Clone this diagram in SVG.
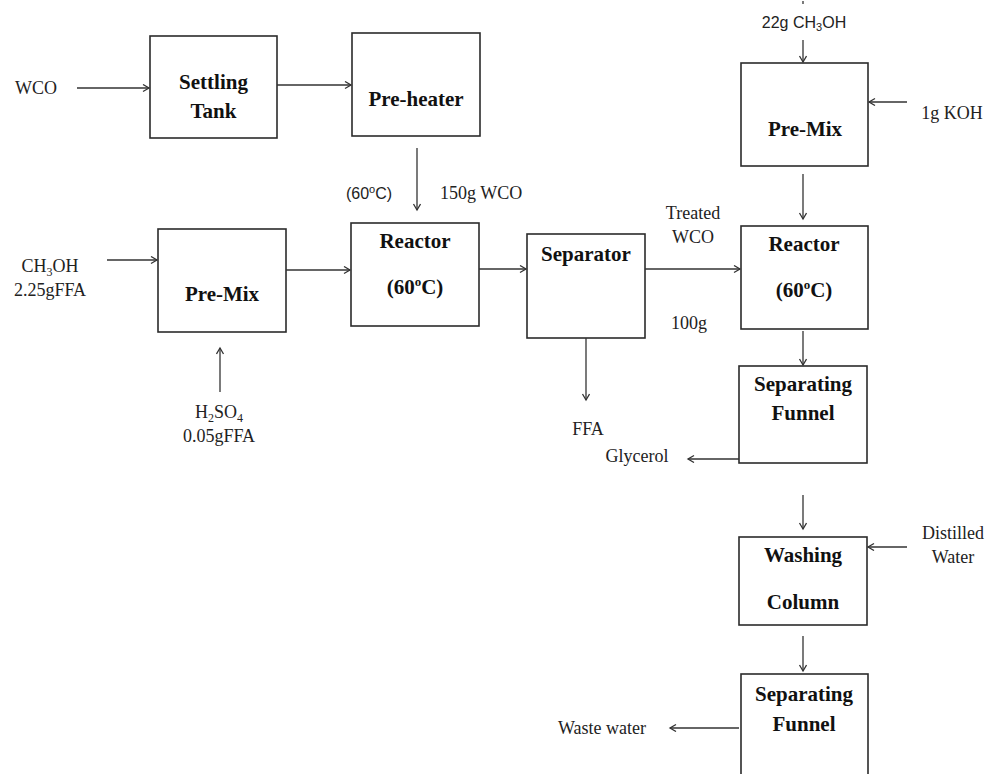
<svg xmlns="http://www.w3.org/2000/svg" width="991" height="774" viewBox="0 0 991 774">
<defs>
<marker id="arr" markerUnits="userSpaceOnUse" markerWidth="10" markerHeight="10" refX="7" refY="4" orient="auto">
<path d="M1,0.5 L7,4 L1,7.5" fill="none" stroke="#333" stroke-width="1.3"/>
</marker>
<style>
.box{fill:#fff;stroke:#2b2b2b;stroke-width:1.6}
.bl{font-family:"Liberation Serif",serif;font-weight:bold;font-size:21px;fill:#111;text-anchor:middle}
.lb{font-family:"Liberation Serif",serif;font-size:18px;fill:#222}
.sn{font-family:"Liberation Sans",sans-serif;font-size:16px;fill:#222}
.c{text-anchor:middle}
.ln{stroke:#333;stroke-width:1.3;fill:none;marker-end:url(#arr)}
</style>
</defs>
<rect width="991" height="774" fill="#fff"/>

<g id="settling-tank"><rect class="box" x="150" y="36" width="127" height="102"/><text class="bl" x="213.5" y="89">Settling</text><text class="bl" x="213.5" y="118">Tank</text></g>
<g id="pre-heater"><rect class="box" x="352" y="33" width="128" height="103"/><text class="bl" x="416" y="106">Pre-heater</text></g>
<g id="pre-mix-1"><rect class="box" x="158" y="229" width="128" height="103"/><text class="bl" x="222" y="301">Pre-Mix</text></g>
<g id="reactor-1"><rect class="box" x="351" y="223" width="128" height="103"/><text class="bl" x="415" y="248">Reactor</text><text class="bl" x="415" y="294">(60<tspan font-size="13" dy="-8">o</tspan><tspan dy="8">C)</tspan></text></g>
<g id="separator"><rect class="box" x="527" y="234" width="118" height="104"/><text class="bl" x="586" y="261" font-size="19">Separator</text></g>
<g id="pre-mix-2"><rect class="box" x="741" y="63" width="127" height="103"/><text class="bl" x="805" y="136">Pre-Mix</text></g>
<g id="reactor-2"><rect class="box" x="741" y="226" width="127" height="103"/><text class="bl" x="804" y="251">Reactor</text><text class="bl" x="804" y="297">(60<tspan font-size="13" dy="-8">o</tspan><tspan dy="8">C)</tspan></text></g>
<g id="separating-funnel-1"><rect class="box" x="739" y="366" width="128" height="97"/><text class="bl" x="803" y="391">Separating</text><text class="bl" x="803" y="420">Funnel</text></g>
<g id="washing-column"><rect class="box" x="739" y="537" width="128" height="88"/><text class="bl" x="803" y="562">Washing</text><text class="bl" x="803" y="609">Column</text></g>
<g id="separating-funnel-2"><rect class="box" x="741" y="674" width="127" height="104"/><text class="bl" x="804" y="701">Separating</text><text class="bl" x="804" y="731">Funnel</text></g>

<g id="labels">
<text class="lb" x="15" y="94">WCO</text>
<text class="sn c" x="369" y="199" font-size="17">(60<tspan font-size="11" dy="-6">o</tspan><tspan dy="6">C)</tspan></text>
<text class="lb" x="440" y="199">150g WCO</text>
<text class="lb c" x="50" y="272">CH<tspan font-size="12" dy="4">3</tspan><tspan dy="-4">OH</tspan></text>
<text class="lb c" x="50" y="296">2.25gFFA</text>
<text class="lb c" x="219" y="418">H<tspan font-size="12" dy="4">2</tspan><tspan dy="-4">SO</tspan><tspan font-size="12" dy="4">4</tspan></text>
<text class="lb c" x="219" y="442">0.05gFFA</text>
<text class="lb c" x="693" y="219">Treated</text>
<text class="lb c" x="693" y="243">WCO</text>
<text class="lb c" x="689" y="329">100g</text>
<text class="lb c" x="588" y="435">FFA</text>
<text class="lb c" x="637" y="462">Glycerol</text>
<text class="sn c" x="804" y="28">22g CH<tspan font-size="11" dy="3">3</tspan><tspan dy="-3">OH</tspan></text>
<text class="lb c" x="952" y="119">1g KOH</text>
<text class="lb c" x="953" y="539">Distilled</text>
<text class="lb c" x="953" y="563">Water</text>
<text class="lb c" x="602" y="734">Waste water</text>
</g>

<g id="connectors">
<line class="ln" x1="77" y1="88" x2="149" y2="88"/>
<line class="ln" x1="277" y1="85" x2="351" y2="85"/>
<line class="ln" x1="417" y1="148" x2="417" y2="210"/>
<line class="ln" x1="107" y1="260" x2="157" y2="260"/>
<line class="ln" x1="286" y1="270" x2="350" y2="270"/>
<line class="ln" x1="220" y1="392" x2="220" y2="348"/>
<line class="ln" x1="479" y1="269" x2="526" y2="269"/>
<line class="ln" x1="645" y1="269" x2="740" y2="269"/>
<line class="ln" x1="586" y1="338" x2="586" y2="400"/>
<line x1="803" y1="1" x2="803" y2="4" stroke="#333" stroke-width="1.3"/>
<line class="ln" x1="803" y1="40" x2="803" y2="62"/>
<line class="ln" x1="907" y1="102" x2="869" y2="102"/>
<line class="ln" x1="803" y1="174" x2="803" y2="219"/>
<line class="ln" x1="803" y1="331" x2="803" y2="365"/>
<line class="ln" x1="739" y1="459" x2="688" y2="459"/>
<line class="ln" x1="803" y1="495" x2="803" y2="529"/>
<line class="ln" x1="907" y1="547" x2="868" y2="547"/>
<line class="ln" x1="803" y1="636" x2="803" y2="671"/>
<line class="ln" x1="739" y1="728" x2="670" y2="728"/>
</g>
</svg>
